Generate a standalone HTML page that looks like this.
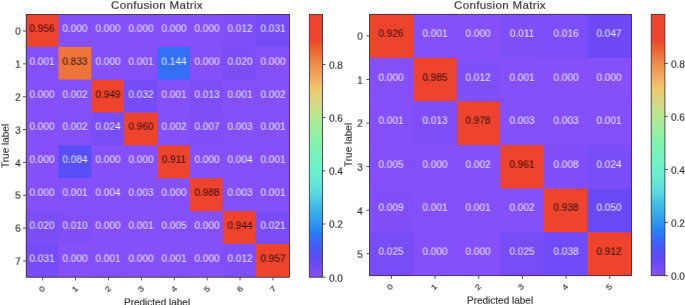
<!DOCTYPE html>
<html><head><meta charset="utf-8"><title>Confusion Matrix</title>
<style>
html,body{margin:0;padding:0;background:#fff}
body{width:685px;height:305px;position:relative;overflow:hidden;font-family:"Liberation Sans",sans-serif}
svg{position:absolute;left:0;top:0}
.t{position:absolute;will-change:transform;white-space:nowrap;font-size:10px;line-height:10px;color:#303030;-webkit-text-stroke:.18px currentColor}
.lo{color:rgba(255,255,255,.9);-webkit-text-stroke:0}
.hi{color:rgba(20,0,0,.9);-webkit-text-stroke:0}
.xt{font-size:9px}
.title{font-size:11.5px;line-height:12px;letter-spacing:.35px}
</style></head><body>
<svg width="685" height="305" viewBox="0 0 685 305">
<rect x="26.20" y="14.40" width="263.20" height="262.80" fill="#8550fa"/>
<rect x="26.20" y="14.40" width="32.25" height="32.53" fill="#ee442d"/>
<rect x="222.70" y="14.40" width="32.85" height="32.53" fill="#7f4ff9"/>
<rect x="255.55" y="14.40" width="33.85" height="32.53" fill="#754cf8"/>
<rect x="26.20" y="46.93" width="32.25" height="32.83" fill="#8450fa"/>
<rect x="58.45" y="46.93" width="32.85" height="32.83" fill="#ef743b"/>
<rect x="124.15" y="46.93" width="32.85" height="32.83" fill="#8450fa"/>
<rect x="157.00" y="46.93" width="32.85" height="32.83" fill="#336ff7"/>
<rect x="222.70" y="46.93" width="32.85" height="32.83" fill="#7b4ef8"/>
<rect x="58.45" y="79.76" width="32.85" height="32.83" fill="#8450fa"/>
<rect x="91.30" y="79.76" width="32.85" height="32.83" fill="#ee442d"/>
<rect x="124.15" y="79.76" width="32.85" height="32.83" fill="#754cf8"/>
<rect x="157.00" y="79.76" width="32.85" height="32.83" fill="#8450fa"/>
<rect x="189.85" y="79.76" width="32.85" height="32.83" fill="#7e4ef9"/>
<rect x="222.70" y="79.76" width="32.85" height="32.83" fill="#8450fa"/>
<rect x="255.55" y="79.76" width="33.85" height="32.83" fill="#8450fa"/>
<rect x="58.45" y="112.59" width="32.85" height="32.83" fill="#8450fa"/>
<rect x="91.30" y="112.59" width="32.85" height="32.83" fill="#794df8"/>
<rect x="124.15" y="112.59" width="32.85" height="32.83" fill="#ee442d"/>
<rect x="157.00" y="112.59" width="32.85" height="32.83" fill="#8450fa"/>
<rect x="189.85" y="112.59" width="32.85" height="32.83" fill="#814ff9"/>
<rect x="222.70" y="112.59" width="32.85" height="32.83" fill="#8350fa"/>
<rect x="255.55" y="112.59" width="33.85" height="32.83" fill="#8450fa"/>
<rect x="58.45" y="145.42" width="32.85" height="32.83" fill="#584ff6"/>
<rect x="157.00" y="145.42" width="32.85" height="32.83" fill="#ee442d"/>
<rect x="222.70" y="145.42" width="32.85" height="32.83" fill="#8350fa"/>
<rect x="255.55" y="145.42" width="33.85" height="32.83" fill="#8450fa"/>
<rect x="58.45" y="178.25" width="32.85" height="32.83" fill="#8450fa"/>
<rect x="91.30" y="178.25" width="32.85" height="32.83" fill="#8350fa"/>
<rect x="124.15" y="178.25" width="32.85" height="32.83" fill="#8350fa"/>
<rect x="189.85" y="178.25" width="32.85" height="32.83" fill="#ee442d"/>
<rect x="222.70" y="178.25" width="32.85" height="32.83" fill="#8350fa"/>
<rect x="255.55" y="178.25" width="33.85" height="32.83" fill="#8450fa"/>
<rect x="26.20" y="211.08" width="32.25" height="32.83" fill="#7b4ef8"/>
<rect x="58.45" y="211.08" width="32.85" height="32.83" fill="#804ff9"/>
<rect x="124.15" y="211.08" width="32.85" height="32.83" fill="#8450fa"/>
<rect x="157.00" y="211.08" width="32.85" height="32.83" fill="#824ffa"/>
<rect x="222.70" y="211.08" width="32.85" height="32.83" fill="#ee442d"/>
<rect x="255.55" y="211.08" width="33.85" height="32.83" fill="#7a4df8"/>
<rect x="26.20" y="243.91" width="32.25" height="33.29" fill="#754cf8"/>
<rect x="91.30" y="243.91" width="32.85" height="33.29" fill="#8450fa"/>
<rect x="157.00" y="243.91" width="32.85" height="33.29" fill="#8450fa"/>
<rect x="222.70" y="243.91" width="32.85" height="33.29" fill="#7f4ff9"/>
<rect x="255.55" y="243.91" width="33.85" height="33.29" fill="#ee442d"/>
<rect x="26.20" y="14.40" width="263.20" height="262.80" fill="none" stroke="#2e2830" stroke-width="0.8"/>
<line x1="23.00" y1="31.03" x2="26.20" y2="31.03" stroke="#2e2830" stroke-width="0.8"/>
<line x1="42.65" y1="277.20" x2="42.65" y2="280.40" stroke="#2e2830" stroke-width="0.8"/>
<line x1="23.00" y1="63.88" x2="26.20" y2="63.88" stroke="#2e2830" stroke-width="0.8"/>
<line x1="75.55" y1="277.20" x2="75.55" y2="280.40" stroke="#2e2830" stroke-width="0.8"/>
<line x1="23.00" y1="96.73" x2="26.20" y2="96.73" stroke="#2e2830" stroke-width="0.8"/>
<line x1="108.45" y1="277.20" x2="108.45" y2="280.40" stroke="#2e2830" stroke-width="0.8"/>
<line x1="23.00" y1="129.57" x2="26.20" y2="129.57" stroke="#2e2830" stroke-width="0.8"/>
<line x1="141.35" y1="277.20" x2="141.35" y2="280.40" stroke="#2e2830" stroke-width="0.8"/>
<line x1="23.00" y1="162.43" x2="26.20" y2="162.43" stroke="#2e2830" stroke-width="0.8"/>
<line x1="174.25" y1="277.20" x2="174.25" y2="280.40" stroke="#2e2830" stroke-width="0.8"/>
<line x1="23.00" y1="195.28" x2="26.20" y2="195.28" stroke="#2e2830" stroke-width="0.8"/>
<line x1="207.15" y1="277.20" x2="207.15" y2="280.40" stroke="#2e2830" stroke-width="0.8"/>
<line x1="23.00" y1="228.12" x2="26.20" y2="228.12" stroke="#2e2830" stroke-width="0.8"/>
<line x1="240.05" y1="277.20" x2="240.05" y2="280.40" stroke="#2e2830" stroke-width="0.8"/>
<line x1="23.00" y1="260.97" x2="26.20" y2="260.97" stroke="#2e2830" stroke-width="0.8"/>
<line x1="272.95" y1="277.20" x2="272.95" y2="280.40" stroke="#2e2830" stroke-width="0.8"/>
<defs><linearGradient id="g26" x1="0" y1="0" x2="0" y2="1"><stop offset="0.0000" stop-color="#ee442d"/><stop offset="0.0950" stop-color="#ee442d"/><stop offset="0.1350" stop-color="#ee6430"/><stop offset="0.1900" stop-color="#f08c4b"/><stop offset="0.2350" stop-color="#f3a55f"/><stop offset="0.2840" stop-color="#f0c86e"/><stop offset="0.3340" stop-color="#d7d782"/><stop offset="0.3830" stop-color="#b9e88c"/><stop offset="0.4820" stop-color="#84f4ab"/><stop offset="0.5810" stop-color="#6cf2c8"/><stop offset="0.6310" stop-color="#64ead3"/><stop offset="0.6800" stop-color="#5cd8e0"/><stop offset="0.7300" stop-color="#41b9e8"/><stop offset="0.7800" stop-color="#32a0f0"/><stop offset="0.8290" stop-color="#2382f5"/><stop offset="0.8780" stop-color="#425df8"/><stop offset="0.9350" stop-color="#6448f5"/><stop offset="1.0000" stop-color="#8550fa"/></linearGradient></defs>
<rect x="309.30" y="14.40" width="13.30" height="262.80" fill="url(#g26)" stroke="#2e2830" stroke-width="0.8"/>
<line x1="322.60" y1="277.20" x2="325.60" y2="277.20" stroke="#2e2830" stroke-width="0.8"/>
<line x1="322.60" y1="224.00" x2="325.60" y2="224.00" stroke="#2e2830" stroke-width="0.8"/>
<line x1="322.60" y1="170.80" x2="325.60" y2="170.80" stroke="#2e2830" stroke-width="0.8"/>
<line x1="322.60" y1="117.60" x2="325.60" y2="117.60" stroke="#2e2830" stroke-width="0.8"/>
<line x1="322.60" y1="64.41" x2="325.60" y2="64.41" stroke="#2e2830" stroke-width="0.8"/>
<rect x="369.60" y="14.30" width="262.00" height="261.40" fill="#8550fa"/>
<rect x="369.60" y="14.30" width="43.52" height="43.52" fill="#ee442d"/>
<rect x="413.12" y="14.30" width="43.62" height="43.52" fill="#8450fa"/>
<rect x="500.36" y="14.30" width="43.62" height="43.52" fill="#7f4ff9"/>
<rect x="543.98" y="14.30" width="43.62" height="43.52" fill="#7d4ef9"/>
<rect x="587.60" y="14.30" width="44.00" height="43.52" fill="#6d4af6"/>
<rect x="413.12" y="57.82" width="43.62" height="43.62" fill="#ee442d"/>
<rect x="456.74" y="57.82" width="43.62" height="43.62" fill="#7f4ff9"/>
<rect x="500.36" y="57.82" width="43.62" height="43.62" fill="#8450fa"/>
<rect x="369.60" y="101.44" width="43.52" height="43.62" fill="#8450fa"/>
<rect x="413.12" y="101.44" width="43.62" height="43.62" fill="#7e4ef9"/>
<rect x="456.74" y="101.44" width="43.62" height="43.62" fill="#ee442d"/>
<rect x="500.36" y="101.44" width="43.62" height="43.62" fill="#8350fa"/>
<rect x="543.98" y="101.44" width="43.62" height="43.62" fill="#8350fa"/>
<rect x="587.60" y="101.44" width="44.00" height="43.62" fill="#8450fa"/>
<rect x="369.60" y="145.06" width="43.52" height="43.62" fill="#824ffa"/>
<rect x="456.74" y="145.06" width="43.62" height="43.62" fill="#8450fa"/>
<rect x="500.36" y="145.06" width="43.62" height="43.62" fill="#ee442d"/>
<rect x="543.98" y="145.06" width="43.62" height="43.62" fill="#814ff9"/>
<rect x="587.60" y="145.06" width="44.00" height="43.62" fill="#794df8"/>
<rect x="369.60" y="188.68" width="43.52" height="43.62" fill="#804ff9"/>
<rect x="413.12" y="188.68" width="43.62" height="43.62" fill="#8450fa"/>
<rect x="456.74" y="188.68" width="43.62" height="43.62" fill="#8450fa"/>
<rect x="500.36" y="188.68" width="43.62" height="43.62" fill="#8450fa"/>
<rect x="543.98" y="188.68" width="43.62" height="43.62" fill="#ee442d"/>
<rect x="587.60" y="188.68" width="44.00" height="43.62" fill="#6b4af6"/>
<rect x="369.60" y="232.30" width="43.52" height="43.40" fill="#784df8"/>
<rect x="500.36" y="232.30" width="43.62" height="43.40" fill="#784df8"/>
<rect x="543.98" y="232.30" width="43.62" height="43.40" fill="#714bf7"/>
<rect x="587.60" y="232.30" width="44.00" height="43.40" fill="#ee442d"/>
<rect x="369.60" y="14.30" width="262.00" height="261.40" fill="none" stroke="#2e2830" stroke-width="0.8"/>
<line x1="366.40" y1="35.88" x2="369.60" y2="35.88" stroke="#2e2830" stroke-width="0.8"/>
<line x1="391.43" y1="275.70" x2="391.43" y2="278.90" stroke="#2e2830" stroke-width="0.8"/>
<line x1="366.40" y1="79.45" x2="369.60" y2="79.45" stroke="#2e2830" stroke-width="0.8"/>
<line x1="435.10" y1="275.70" x2="435.10" y2="278.90" stroke="#2e2830" stroke-width="0.8"/>
<line x1="366.40" y1="123.02" x2="369.60" y2="123.02" stroke="#2e2830" stroke-width="0.8"/>
<line x1="478.77" y1="275.70" x2="478.77" y2="278.90" stroke="#2e2830" stroke-width="0.8"/>
<line x1="366.40" y1="166.58" x2="369.60" y2="166.58" stroke="#2e2830" stroke-width="0.8"/>
<line x1="522.43" y1="275.70" x2="522.43" y2="278.90" stroke="#2e2830" stroke-width="0.8"/>
<line x1="366.40" y1="210.15" x2="369.60" y2="210.15" stroke="#2e2830" stroke-width="0.8"/>
<line x1="566.10" y1="275.70" x2="566.10" y2="278.90" stroke="#2e2830" stroke-width="0.8"/>
<line x1="366.40" y1="253.72" x2="369.60" y2="253.72" stroke="#2e2830" stroke-width="0.8"/>
<line x1="609.77" y1="275.70" x2="609.77" y2="278.90" stroke="#2e2830" stroke-width="0.8"/>
<defs><linearGradient id="g369" x1="0" y1="0" x2="0" y2="1"><stop offset="0.0000" stop-color="#ee442d"/><stop offset="0.0950" stop-color="#ee442d"/><stop offset="0.1350" stop-color="#ee6430"/><stop offset="0.1900" stop-color="#f08c4b"/><stop offset="0.2350" stop-color="#f3a55f"/><stop offset="0.2840" stop-color="#f0c86e"/><stop offset="0.3340" stop-color="#d7d782"/><stop offset="0.3830" stop-color="#b9e88c"/><stop offset="0.4820" stop-color="#84f4ab"/><stop offset="0.5810" stop-color="#6cf2c8"/><stop offset="0.6310" stop-color="#64ead3"/><stop offset="0.6800" stop-color="#5cd8e0"/><stop offset="0.7300" stop-color="#41b9e8"/><stop offset="0.7800" stop-color="#32a0f0"/><stop offset="0.8290" stop-color="#2382f5"/><stop offset="0.8780" stop-color="#425df8"/><stop offset="0.9350" stop-color="#6448f5"/><stop offset="1.0000" stop-color="#8550fa"/></linearGradient></defs>
<rect x="651.20" y="14.30" width="13.70" height="261.40" fill="url(#g369)" stroke="#2e2830" stroke-width="0.8"/>
<line x1="664.90" y1="275.70" x2="667.90" y2="275.70" stroke="#2e2830" stroke-width="0.8"/>
<line x1="664.90" y1="222.62" x2="667.90" y2="222.62" stroke="#2e2830" stroke-width="0.8"/>
<line x1="664.90" y1="169.55" x2="667.90" y2="169.55" stroke="#2e2830" stroke-width="0.8"/>
<line x1="664.90" y1="116.47" x2="667.90" y2="116.47" stroke="#2e2830" stroke-width="0.8"/>
<line x1="664.90" y1="63.40" x2="667.90" y2="63.40" stroke="#2e2830" stroke-width="0.8"/>
</svg>
<div class="t hi" style="left:42.35px;top:28.83px;transform:translate(-50%,-50%) scale(1,.92);">0.956</div>
<div class="t lo" style="left:75.25px;top:28.83px;transform:translate(-50%,-50%) scale(1,.92);">0.000</div>
<div class="t lo" style="left:108.15px;top:28.83px;transform:translate(-50%,-50%) scale(1,.92);">0.000</div>
<div class="t lo" style="left:141.05px;top:28.83px;transform:translate(-50%,-50%) scale(1,.92);">0.000</div>
<div class="t lo" style="left:173.95px;top:28.83px;transform:translate(-50%,-50%) scale(1,.92);">0.000</div>
<div class="t lo" style="left:206.85px;top:28.83px;transform:translate(-50%,-50%) scale(1,.92);">0.000</div>
<div class="t lo" style="left:239.75px;top:28.83px;transform:translate(-50%,-50%) scale(1,.92);">0.012</div>
<div class="t lo" style="left:272.65px;top:28.83px;transform:translate(-50%,-50%) scale(1,.92);">0.031</div>
<div class="t lo" style="left:42.35px;top:61.68px;transform:translate(-50%,-50%) scale(1,.92);">0.001</div>
<div class="t hi" style="left:75.25px;top:61.68px;transform:translate(-50%,-50%) scale(1,.92);">0.833</div>
<div class="t lo" style="left:108.15px;top:61.68px;transform:translate(-50%,-50%) scale(1,.92);">0.000</div>
<div class="t lo" style="left:141.05px;top:61.68px;transform:translate(-50%,-50%) scale(1,.92);">0.001</div>
<div class="t lo" style="left:173.95px;top:61.68px;transform:translate(-50%,-50%) scale(1,.92);">0.144</div>
<div class="t lo" style="left:206.85px;top:61.68px;transform:translate(-50%,-50%) scale(1,.92);">0.000</div>
<div class="t lo" style="left:239.75px;top:61.68px;transform:translate(-50%,-50%) scale(1,.92);">0.020</div>
<div class="t lo" style="left:272.65px;top:61.68px;transform:translate(-50%,-50%) scale(1,.92);">0.000</div>
<div class="t lo" style="left:42.35px;top:94.53px;transform:translate(-50%,-50%) scale(1,.92);">0.000</div>
<div class="t lo" style="left:75.25px;top:94.53px;transform:translate(-50%,-50%) scale(1,.92);">0.002</div>
<div class="t hi" style="left:108.15px;top:94.53px;transform:translate(-50%,-50%) scale(1,.92);">0.949</div>
<div class="t lo" style="left:141.05px;top:94.53px;transform:translate(-50%,-50%) scale(1,.92);">0.032</div>
<div class="t lo" style="left:173.95px;top:94.53px;transform:translate(-50%,-50%) scale(1,.92);">0.001</div>
<div class="t lo" style="left:206.85px;top:94.53px;transform:translate(-50%,-50%) scale(1,.92);">0.013</div>
<div class="t lo" style="left:239.75px;top:94.53px;transform:translate(-50%,-50%) scale(1,.92);">0.001</div>
<div class="t lo" style="left:272.65px;top:94.53px;transform:translate(-50%,-50%) scale(1,.92);">0.002</div>
<div class="t lo" style="left:42.35px;top:127.38px;transform:translate(-50%,-50%) scale(1,.92);">0.000</div>
<div class="t lo" style="left:75.25px;top:127.38px;transform:translate(-50%,-50%) scale(1,.92);">0.002</div>
<div class="t lo" style="left:108.15px;top:127.38px;transform:translate(-50%,-50%) scale(1,.92);">0.024</div>
<div class="t hi" style="left:141.05px;top:127.38px;transform:translate(-50%,-50%) scale(1,.92);">0.960</div>
<div class="t lo" style="left:173.95px;top:127.38px;transform:translate(-50%,-50%) scale(1,.92);">0.002</div>
<div class="t lo" style="left:206.85px;top:127.38px;transform:translate(-50%,-50%) scale(1,.92);">0.007</div>
<div class="t lo" style="left:239.75px;top:127.38px;transform:translate(-50%,-50%) scale(1,.92);">0.003</div>
<div class="t lo" style="left:272.65px;top:127.38px;transform:translate(-50%,-50%) scale(1,.92);">0.001</div>
<div class="t lo" style="left:42.35px;top:160.23px;transform:translate(-50%,-50%) scale(1,.92);">0.000</div>
<div class="t lo" style="left:75.25px;top:160.23px;transform:translate(-50%,-50%) scale(1,.92);">0.084</div>
<div class="t lo" style="left:108.15px;top:160.23px;transform:translate(-50%,-50%) scale(1,.92);">0.000</div>
<div class="t lo" style="left:141.05px;top:160.23px;transform:translate(-50%,-50%) scale(1,.92);">0.000</div>
<div class="t hi" style="left:173.95px;top:160.23px;transform:translate(-50%,-50%) scale(1,.92);">0.911</div>
<div class="t lo" style="left:206.85px;top:160.23px;transform:translate(-50%,-50%) scale(1,.92);">0.000</div>
<div class="t lo" style="left:239.75px;top:160.23px;transform:translate(-50%,-50%) scale(1,.92);">0.004</div>
<div class="t lo" style="left:272.65px;top:160.23px;transform:translate(-50%,-50%) scale(1,.92);">0.001</div>
<div class="t lo" style="left:42.35px;top:193.08px;transform:translate(-50%,-50%) scale(1,.92);">0.000</div>
<div class="t lo" style="left:75.25px;top:193.08px;transform:translate(-50%,-50%) scale(1,.92);">0.001</div>
<div class="t lo" style="left:108.15px;top:193.08px;transform:translate(-50%,-50%) scale(1,.92);">0.004</div>
<div class="t lo" style="left:141.05px;top:193.08px;transform:translate(-50%,-50%) scale(1,.92);">0.003</div>
<div class="t lo" style="left:173.95px;top:193.08px;transform:translate(-50%,-50%) scale(1,.92);">0.000</div>
<div class="t hi" style="left:206.85px;top:193.08px;transform:translate(-50%,-50%) scale(1,.92);">0.988</div>
<div class="t lo" style="left:239.75px;top:193.08px;transform:translate(-50%,-50%) scale(1,.92);">0.003</div>
<div class="t lo" style="left:272.65px;top:193.08px;transform:translate(-50%,-50%) scale(1,.92);">0.001</div>
<div class="t lo" style="left:42.35px;top:225.93px;transform:translate(-50%,-50%) scale(1,.92);">0.020</div>
<div class="t lo" style="left:75.25px;top:225.93px;transform:translate(-50%,-50%) scale(1,.92);">0.010</div>
<div class="t lo" style="left:108.15px;top:225.93px;transform:translate(-50%,-50%) scale(1,.92);">0.000</div>
<div class="t lo" style="left:141.05px;top:225.93px;transform:translate(-50%,-50%) scale(1,.92);">0.001</div>
<div class="t lo" style="left:173.95px;top:225.93px;transform:translate(-50%,-50%) scale(1,.92);">0.005</div>
<div class="t lo" style="left:206.85px;top:225.93px;transform:translate(-50%,-50%) scale(1,.92);">0.000</div>
<div class="t hi" style="left:239.75px;top:225.93px;transform:translate(-50%,-50%) scale(1,.92);">0.944</div>
<div class="t lo" style="left:272.65px;top:225.93px;transform:translate(-50%,-50%) scale(1,.92);">0.021</div>
<div class="t lo" style="left:42.35px;top:258.77px;transform:translate(-50%,-50%) scale(1,.92);">0.031</div>
<div class="t lo" style="left:75.25px;top:258.77px;transform:translate(-50%,-50%) scale(1,.92);">0.000</div>
<div class="t lo" style="left:108.15px;top:258.77px;transform:translate(-50%,-50%) scale(1,.92);">0.001</div>
<div class="t lo" style="left:141.05px;top:258.77px;transform:translate(-50%,-50%) scale(1,.92);">0.000</div>
<div class="t lo" style="left:173.95px;top:258.77px;transform:translate(-50%,-50%) scale(1,.92);">0.001</div>
<div class="t lo" style="left:206.85px;top:258.77px;transform:translate(-50%,-50%) scale(1,.92);">0.000</div>
<div class="t lo" style="left:239.75px;top:258.77px;transform:translate(-50%,-50%) scale(1,.92);">0.012</div>
<div class="t hi" style="left:272.65px;top:258.77px;transform:translate(-50%,-50%) scale(1,.92);">0.957</div>
<div class="t k" style="left:18.00px;top:32.23px;transform:translate(-50%,-50%) scale(1,.92);">0</div>
<div class="t k xt" style="left:42.25px;top:288.50px;transform:translate(-50%,-50%) rotate(-45deg) scale(1,.92);">0</div>
<div class="t k" style="left:18.00px;top:65.08px;transform:translate(-50%,-50%) scale(1,.92);">1</div>
<div class="t k xt" style="left:75.15px;top:288.50px;transform:translate(-50%,-50%) rotate(-45deg) scale(1,.92);">1</div>
<div class="t k" style="left:18.00px;top:97.93px;transform:translate(-50%,-50%) scale(1,.92);">2</div>
<div class="t k xt" style="left:108.05px;top:288.50px;transform:translate(-50%,-50%) rotate(-45deg) scale(1,.92);">2</div>
<div class="t k" style="left:18.00px;top:130.78px;transform:translate(-50%,-50%) scale(1,.92);">3</div>
<div class="t k xt" style="left:140.95px;top:288.50px;transform:translate(-50%,-50%) rotate(-45deg) scale(1,.92);">3</div>
<div class="t k" style="left:18.00px;top:163.63px;transform:translate(-50%,-50%) scale(1,.92);">4</div>
<div class="t k xt" style="left:173.85px;top:288.50px;transform:translate(-50%,-50%) rotate(-45deg) scale(1,.92);">4</div>
<div class="t k" style="left:18.00px;top:196.48px;transform:translate(-50%,-50%) scale(1,.92);">5</div>
<div class="t k xt" style="left:206.75px;top:288.50px;transform:translate(-50%,-50%) rotate(-45deg) scale(1,.92);">5</div>
<div class="t k" style="left:18.00px;top:229.33px;transform:translate(-50%,-50%) scale(1,.92);">6</div>
<div class="t k xt" style="left:239.65px;top:288.50px;transform:translate(-50%,-50%) rotate(-45deg) scale(1,.92);">6</div>
<div class="t k" style="left:18.00px;top:262.17px;transform:translate(-50%,-50%) scale(1,.92);">7</div>
<div class="t k xt" style="left:272.55px;top:288.50px;transform:translate(-50%,-50%) rotate(-45deg) scale(1,.92);">7</div>
<div class="t k" style="left:335.55px;top:278.50px;transform:translate(-50%,-50%) scale(1,.92);">0.0</div>
<div class="t k" style="left:335.55px;top:225.30px;transform:translate(-50%,-50%) scale(1,.92);">0.2</div>
<div class="t k" style="left:335.55px;top:172.10px;transform:translate(-50%,-50%) scale(1,.92);">0.4</div>
<div class="t k" style="left:335.55px;top:118.90px;transform:translate(-50%,-50%) scale(1,.92);">0.6</div>
<div class="t k" style="left:335.55px;top:65.71px;transform:translate(-50%,-50%) scale(1,.92);">0.8</div>
<div class="t title" style="left:157.30px;top:4.90px;transform:translate(-50%,-50%) scale(1,.95);">Confusion Matrix</div>
<div class="t k" style="left:156.60px;top:303.30px;transform:translate(-50%,-50%) scale(1,.92);">Predicted label</div>
<div class="t k" style="left:6.00px;top:145.80px;transform:translate(-50%,-50%) rotate(-90deg) scale(1,.92);">True label</div>
<div class="t hi" style="left:391.13px;top:33.98px;transform:translate(-50%,-50%) scale(1,.92);">0.926</div>
<div class="t lo" style="left:434.80px;top:33.98px;transform:translate(-50%,-50%) scale(1,.92);">0.001</div>
<div class="t lo" style="left:478.47px;top:33.98px;transform:translate(-50%,-50%) scale(1,.92);">0.000</div>
<div class="t lo" style="left:522.13px;top:33.98px;transform:translate(-50%,-50%) scale(1,.92);">0.011</div>
<div class="t lo" style="left:565.80px;top:33.98px;transform:translate(-50%,-50%) scale(1,.92);">0.016</div>
<div class="t lo" style="left:609.47px;top:33.98px;transform:translate(-50%,-50%) scale(1,.92);">0.047</div>
<div class="t lo" style="left:391.13px;top:77.55px;transform:translate(-50%,-50%) scale(1,.92);">0.000</div>
<div class="t hi" style="left:434.80px;top:77.55px;transform:translate(-50%,-50%) scale(1,.92);">0.985</div>
<div class="t lo" style="left:478.47px;top:77.55px;transform:translate(-50%,-50%) scale(1,.92);">0.012</div>
<div class="t lo" style="left:522.13px;top:77.55px;transform:translate(-50%,-50%) scale(1,.92);">0.001</div>
<div class="t lo" style="left:565.80px;top:77.55px;transform:translate(-50%,-50%) scale(1,.92);">0.000</div>
<div class="t lo" style="left:609.47px;top:77.55px;transform:translate(-50%,-50%) scale(1,.92);">0.000</div>
<div class="t lo" style="left:391.13px;top:121.12px;transform:translate(-50%,-50%) scale(1,.92);">0.001</div>
<div class="t lo" style="left:434.80px;top:121.12px;transform:translate(-50%,-50%) scale(1,.92);">0.013</div>
<div class="t hi" style="left:478.47px;top:121.12px;transform:translate(-50%,-50%) scale(1,.92);">0.978</div>
<div class="t lo" style="left:522.13px;top:121.12px;transform:translate(-50%,-50%) scale(1,.92);">0.003</div>
<div class="t lo" style="left:565.80px;top:121.12px;transform:translate(-50%,-50%) scale(1,.92);">0.003</div>
<div class="t lo" style="left:609.47px;top:121.12px;transform:translate(-50%,-50%) scale(1,.92);">0.001</div>
<div class="t lo" style="left:391.13px;top:164.68px;transform:translate(-50%,-50%) scale(1,.92);">0.005</div>
<div class="t lo" style="left:434.80px;top:164.68px;transform:translate(-50%,-50%) scale(1,.92);">0.000</div>
<div class="t lo" style="left:478.47px;top:164.68px;transform:translate(-50%,-50%) scale(1,.92);">0.002</div>
<div class="t hi" style="left:522.13px;top:164.68px;transform:translate(-50%,-50%) scale(1,.92);">0.961</div>
<div class="t lo" style="left:565.80px;top:164.68px;transform:translate(-50%,-50%) scale(1,.92);">0.008</div>
<div class="t lo" style="left:609.47px;top:164.68px;transform:translate(-50%,-50%) scale(1,.92);">0.024</div>
<div class="t lo" style="left:391.13px;top:208.25px;transform:translate(-50%,-50%) scale(1,.92);">0.009</div>
<div class="t lo" style="left:434.80px;top:208.25px;transform:translate(-50%,-50%) scale(1,.92);">0.001</div>
<div class="t lo" style="left:478.47px;top:208.25px;transform:translate(-50%,-50%) scale(1,.92);">0.001</div>
<div class="t lo" style="left:522.13px;top:208.25px;transform:translate(-50%,-50%) scale(1,.92);">0.002</div>
<div class="t hi" style="left:565.80px;top:208.25px;transform:translate(-50%,-50%) scale(1,.92);">0.938</div>
<div class="t lo" style="left:609.47px;top:208.25px;transform:translate(-50%,-50%) scale(1,.92);">0.050</div>
<div class="t lo" style="left:391.13px;top:251.82px;transform:translate(-50%,-50%) scale(1,.92);">0.025</div>
<div class="t lo" style="left:434.80px;top:251.82px;transform:translate(-50%,-50%) scale(1,.92);">0.000</div>
<div class="t lo" style="left:478.47px;top:251.82px;transform:translate(-50%,-50%) scale(1,.92);">0.000</div>
<div class="t lo" style="left:522.13px;top:251.82px;transform:translate(-50%,-50%) scale(1,.92);">0.025</div>
<div class="t lo" style="left:565.80px;top:251.82px;transform:translate(-50%,-50%) scale(1,.92);">0.038</div>
<div class="t hi" style="left:609.47px;top:251.82px;transform:translate(-50%,-50%) scale(1,.92);">0.912</div>
<div class="t k" style="left:360.45px;top:37.28px;transform:translate(-50%,-50%) scale(1,.92);">0</div>
<div class="t k xt" style="left:390.43px;top:287.35px;transform:translate(-50%,-50%) rotate(-45deg) scale(1,.92);">0</div>
<div class="t k" style="left:360.45px;top:80.85px;transform:translate(-50%,-50%) scale(1,.92);">1</div>
<div class="t k xt" style="left:434.10px;top:287.35px;transform:translate(-50%,-50%) rotate(-45deg) scale(1,.92);">1</div>
<div class="t k" style="left:360.45px;top:124.42px;transform:translate(-50%,-50%) scale(1,.92);">2</div>
<div class="t k xt" style="left:477.77px;top:287.35px;transform:translate(-50%,-50%) rotate(-45deg) scale(1,.92);">2</div>
<div class="t k" style="left:360.45px;top:167.98px;transform:translate(-50%,-50%) scale(1,.92);">3</div>
<div class="t k xt" style="left:521.43px;top:287.35px;transform:translate(-50%,-50%) rotate(-45deg) scale(1,.92);">3</div>
<div class="t k" style="left:360.45px;top:211.55px;transform:translate(-50%,-50%) scale(1,.92);">4</div>
<div class="t k xt" style="left:565.10px;top:287.35px;transform:translate(-50%,-50%) rotate(-45deg) scale(1,.92);">4</div>
<div class="t k" style="left:360.45px;top:255.12px;transform:translate(-50%,-50%) scale(1,.92);">5</div>
<div class="t k xt" style="left:608.77px;top:287.35px;transform:translate(-50%,-50%) rotate(-45deg) scale(1,.92);">5</div>
<div class="t k" style="left:677.85px;top:277.00px;transform:translate(-50%,-50%) scale(1,.92);">0.0</div>
<div class="t k" style="left:677.85px;top:223.92px;transform:translate(-50%,-50%) scale(1,.92);">0.2</div>
<div class="t k" style="left:677.85px;top:170.85px;transform:translate(-50%,-50%) scale(1,.92);">0.4</div>
<div class="t k" style="left:677.85px;top:117.77px;transform:translate(-50%,-50%) scale(1,.92);">0.6</div>
<div class="t k" style="left:677.85px;top:64.70px;transform:translate(-50%,-50%) scale(1,.92);">0.8</div>
<div class="t title" style="left:500.10px;top:4.80px;transform:translate(-50%,-50%) scale(1,.95);">Confusion Matrix</div>
<div class="t k" style="left:500.30px;top:300.90px;transform:translate(-50%,-50%) scale(1,.92);">Predicted label</div>
<div class="t k" style="left:349.40px;top:145.00px;transform:translate(-50%,-50%) rotate(-90deg) scale(1,.92);">True label</div>
</body></html>
